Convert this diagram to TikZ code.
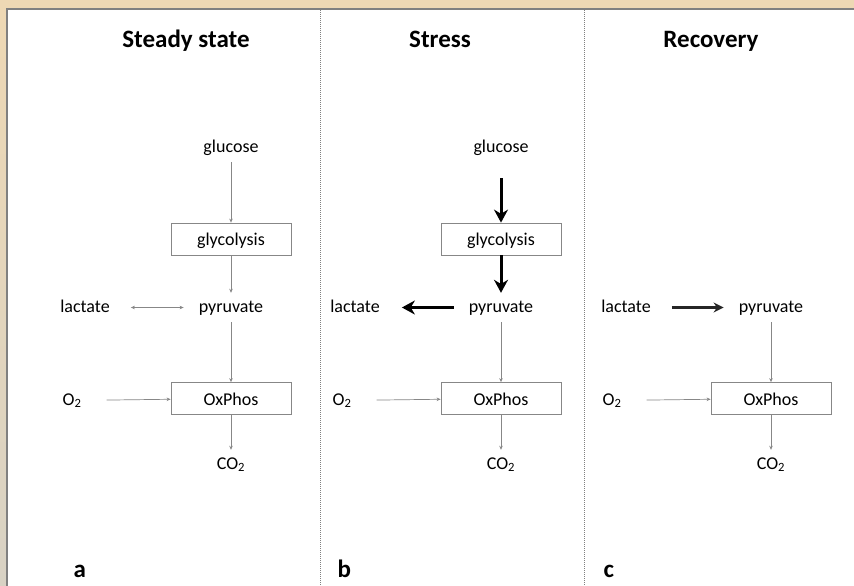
\documentclass[tikz,border=0pt]{standalone}
\usepackage{fontspec}
\setmainfont{Carlito}
\usepackage{xcolor}
\usetikzlibrary{arrows.meta,positioning}
\definecolor{frametop}{RGB}{238,216,180}
\definecolor{framelow}{RGB}{216,210,196}
\definecolor{rulegray}{RGB}{128,128,128}
\definecolor{linegray}{RGB}{135,135,135}

\begin{document}
\begin{tikzpicture}[
    x=1pt, y=-1pt,
    txt/.style={font=\fontsize{18}{20}\selectfont, text height=13pt, text depth=4pt, inner xsep=15pt, inner ysep=6pt},
    box/.style={rectangle, draw=linegray, line width=0.8pt, minimum width=120pt, minimum height=32pt, inner sep=0pt, font=\fontsize{18}{20}\selectfont, text height=16pt, text depth=3pt},
    heading/.style={font=\fontsize{25}{28}\selectfont\bfseries, anchor=base},
    panel/.style={font=\fontsize{25}{28}\selectfont\bfseries, anchor=base west},
    arrow/.style={-{Stealth[length=4pt, width=3.5pt]}, linegray, line width=0.7pt},
    dblarrow/.style={{Stealth[length=4pt, width=3.5pt]}-{Stealth[length=4pt, width=3.5pt]}, linegray, line width=0.7pt},
    bigarrow/.style={-{Stealth[length=13pt, width=14pt]}, black, line width=3pt},
    midarrow/.style={-{Stealth[length=10pt, width=10pt]}, black!85, line width=2.2pt},
    divider/.style={rulegray, line width=0.7pt, dash pattern=on 0.8pt off 1.2pt}
]
\useasboundingbox (0,0) rectangle (854,586);

% Frame
\fill[frametop] (0,0) rectangle (854,9);
\shade[top color=frametop, bottom color=framelow] (0,9) rectangle (7,586);
\fill[white] (8,10) rectangle (854,586);
\draw[rulegray, line width=2pt] (7,586) -- (7,9) -- (854,9);

% Panel dividers
\draw[divider] (320,10) -- (320,586);
\draw[divider] (584,10) -- (584,586);

% Headings
\node[heading] (hdA) at (186,48) {Steady state};
\node[heading] (hdB) at (440,48) {Stress};
\node[heading] (hdC) at (711,48) {Recovery};

% Panel a: steady state
\node[txt] (glcA) at (231,147.5) {glucose};
\node[box] (glyA) at (231,239) {glycolysis};
\node[txt] (pyrA) at (231,307.5) {pyruvate};
\node[txt] (lacA) at (85,307.5) {lactate};
\node[box] (oxA) at (231,398.5) {OxPhos};
\node[txt] (o2A) at (72,400.5) {O\textsubscript{2}};
\node[txt] (co2A) at (231,464.5) {CO\textsubscript{2}};

\draw[arrow] (glcA) -- (glyA);
\draw[arrow] (glyA) -- (pyrA);
\draw[dblarrow, shorten <=6pt] (lacA) -- (pyrA);
\draw[arrow] (pyrA) -- (oxA);
\draw[arrow, shorten <=10pt] (o2A) -- (oxA);
\draw[arrow] (oxA) -- (co2A);

% Panel b: stress
\node[txt] (glcB) at (501,147.5) {glucose};
\node[box] (glyB) at (501,239) {glycolysis};
\node[txt] (pyrB) at (501,307.5) {pyruvate};
\node[txt] (lacB) at (355,307.5) {lactate};
\node[box] (oxB) at (501,398.5) {OxPhos};
\node[txt] (o2B) at (342,400.5) {O\textsubscript{2}};
\node[txt] (co2B) at (501,464.5) {CO\textsubscript{2}};

\draw[bigarrow, shorten <=16pt] (glcB) -- (glyB);
\draw[bigarrow] (glyB) -- (pyrB);
\draw[bigarrow, shorten >=7pt] (pyrB) -- (lacB);
\draw[arrow] (pyrB) -- (oxB);
\draw[arrow, shorten <=10pt] (o2B) -- (oxB);
\draw[arrow] (oxB) -- (co2B);

% Panel c: recovery
\node[txt] (pyrC) at (771,307.5) {pyruvate};
\node[txt] (lacC) at (626,307.5) {lactate};
\node[box] (oxC) at (771,398.5) {OxPhos};
\node[txt] (o2C) at (612,400.5) {O\textsubscript{2}};
\node[txt] (co2C) at (771,464.5) {CO\textsubscript{2}};

\draw[midarrow, shorten <=6pt] (lacC) -- (pyrC);
\draw[arrow] (pyrC) -- (oxC);
\draw[arrow, shorten <=10pt] (o2C) -- (oxC);
\draw[arrow] (oxC) -- (co2C);

% Panel letters
\node[panel] (tagA) at (70,577) {a};
\node[panel] (tagB) at (334,577) {b};
\node[panel] (tagC) at (600,577) {c};
\end{tikzpicture}
\end{document}
